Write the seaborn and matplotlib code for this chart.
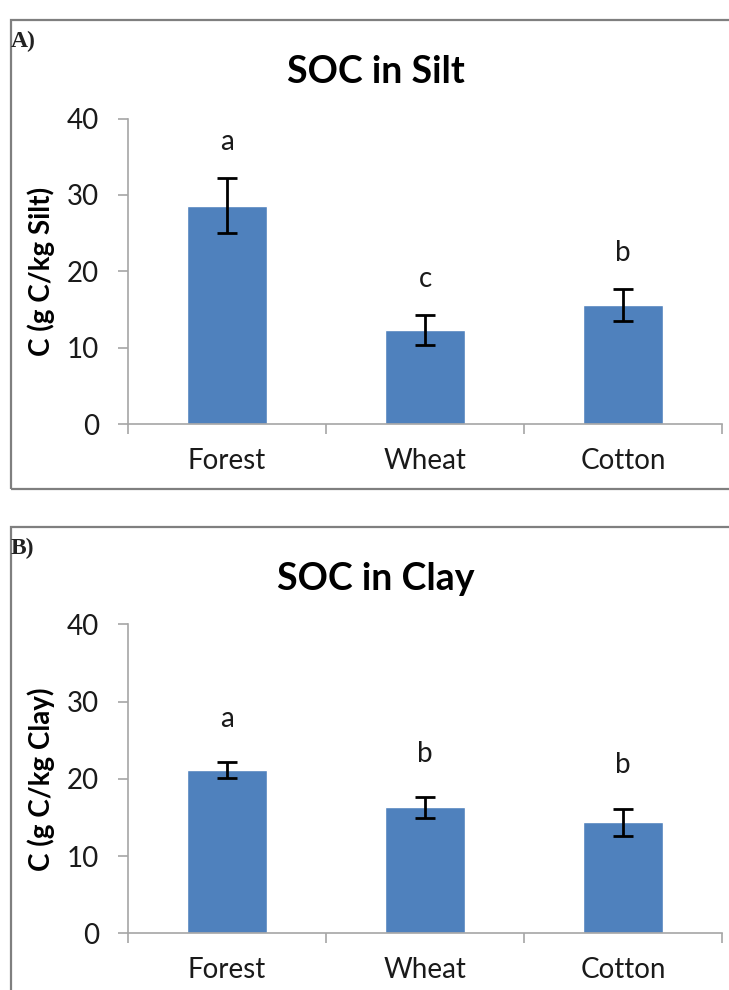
import matplotlib
matplotlib.use("Agg")
import matplotlib.pyplot as plt
from matplotlib.patches import Rectangle
import seaborn as sns
import pandas as pd

# Land-use categories and soil organic carbon per size fraction
categories = ["Forest", "Wheat", "Cotton"]
silt_soc = [28.6, 12.3, 15.6]
silt_err = [3.6, 1.95, 2.1]
silt_letters = ["a", "c", "b"]
clay_soc = [21.1, 16.3, 14.4]
clay_err = [1.05, 1.4, 1.75]
clay_letters = ["a", "b", "b"]
y_ticks = [0, 10, 20, 30, 40]

sns.set_theme(style="white")
plt.rcParams["font.family"] = ["Lato", "DejaVu Sans"]

W, H = 729, 990
fig = plt.figure(figsize=(W / 100, H / 100), dpi=100)

BAR = "#4f81bd"
AXIS = "#a6a6a6"
TEXT = "#1a1a1a"


def fx(px):
    return px / W


def fy(py):
    return 1 - py / H


def panel(frame_top, frame_bottom, ax_top, ax_bottom, tag, title, ylabel,
          values, errors, letters, letter_gap):
    # outer frame around the panel
    fig.patches.append(Rectangle((fx(11), fy(frame_bottom)), 1.2,
                                 (frame_bottom - frame_top) / H,
                                 transform=fig.transFigure, fill=False,
                                 edgecolor="#7f7f7f", lw=1.6, clip_on=False))
    fig.text(fx(11), fy(frame_top + 27), tag, family="Liberation Serif",
             fontweight="bold", fontsize=17, color="#222222", va="baseline")
    fig.text(fx(376), fy(frame_top + 63), title, fontweight="bold",
             fontsize=27, color="black", ha="center", va="baseline")

    ax = fig.add_axes([fx(128), fy(ax_bottom), (722 - 128) / W,
                       (ax_bottom - ax_top) / H])
    df = pd.DataFrame({"land": categories, "soc": values})
    sns.barplot(data=df, x="land", y="soc", color=BAR, saturation=1,
                width=0.4, errorbar=None, ax=ax)
    for patch, err, letter in zip(ax.patches, errors, letters):
        xc = patch.get_x() + patch.get_width() / 2
        top = patch.get_height()
        ax.errorbar(xc, top, yerr=err, fmt="none", ecolor="black",
                    elinewidth=2, capsize=7, capthick=2, zorder=3)
        ax.annotate(letter, (xc, top + err), xytext=(0, letter_gap),
                    textcoords="offset points", ha="center", va="center",
                    fontsize=20, color=TEXT)

    ax.set_xlim(-0.5, 2.5)
    ax.set_ylim(0, 40)
    ax.set_yticks(y_ticks)
    ax.set_xticks([-0.5, 0.5, 1.5, 2.5], minor=True)
    ax.tick_params(axis="x", which="major", length=0, pad=17,
                   labelsize=20, labelcolor=TEXT)
    ax.tick_params(axis="x", which="minor", length=7, width=1.2,
                   color=AXIS, direction="out", bottom=True)
    ax.tick_params(axis="y", length=7, width=1.2, color=AXIS,
                   direction="out", left=True, pad=14,
                   labelsize=20, labelcolor=TEXT)
    ax.set_xlabel("")
    ax.set_ylabel(ylabel, fontweight="bold", fontsize=20, color="black",
                  labelpad=8)
    for side in ("top", "right"):
        ax.spines[side].set_visible(False)
    for side in ("left", "bottom"):
        ax.spines[side].set_color(AXIS)
        ax.spines[side].set_linewidth(1.2)
    return ax


panel(20, 489, 118.5, 424.3, "A)", "SOC in Silt", "C (g C/kg Silt)",
      silt_soc, silt_err, silt_letters, 26)
panel(527, 1100, 624.3, 933.3, "B)", "SOC in Clay", "C (g C/kg Clay)",
      clay_soc, clay_err, clay_letters, 31)

fig.savefig("out.png", dpi=100, facecolor="white")
